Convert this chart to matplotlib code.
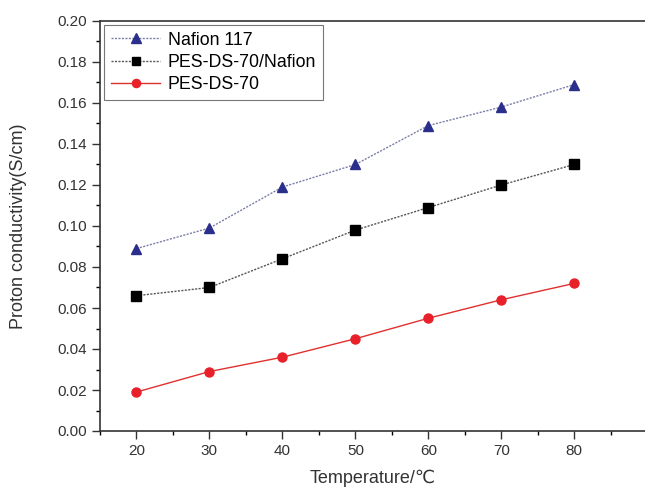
import matplotlib
matplotlib.use("Agg")
import matplotlib.pyplot as plt
from matplotlib.ticker import MultipleLocator

plt.rcParams['font.family'] = ['Liberation Sans', 'DejaVu Sans']

temps = [20, 30, 40, 50, 60, 70, 80]
nafion = [0.089, 0.099, 0.119, 0.130, 0.149, 0.158, 0.169]
composite = [0.066, 0.070, 0.084, 0.098, 0.109, 0.120, 0.130]
pes = [0.019, 0.029, 0.036, 0.045, 0.055, 0.064, 0.072]

fig = plt.figure(figsize=(6.45, 4.87), dpi=100)
ax = fig.add_axes([100/645, 56/487, 1 - 100/645, (431-21)/487])

ax.plot(temps, nafion, color='#7a7fa8', lw=1.0, ls=(0, (1.5, 1)),
        marker='^', ms=7.5, mfc='#2b2f8c', mec='#2b2f8c', label='Nafion 117')
ax.plot(temps, composite, color='#555555', lw=1.0, ls=(0, (1.5, 1)),
        marker='s', ms=6.5, mfc='black', mec='black', label='PES-DS-70/Nafion')
ax.plot(temps, pes, color='#e03030', lw=1.0, ls='-',
        marker='o', ms=6.5, mfc='#e8202a', mec='#e8202a', label='PES-DS-70')

ax.set_xlim(15, 89.7)
ax.set_ylim(0, 0.20)
ax.set_xticks(temps)
ax.set_yticks([i * 0.02 for i in range(11)])
ax.set_yticklabels([f"{i*0.02:.2f}" for i in range(11)])
ax.xaxis.set_minor_locator(MultipleLocator(5))
ax.yaxis.set_minor_locator(MultipleLocator(0.01))
ax.tick_params(which='major', direction='out', length=6, width=1, labelsize=11, colors='#333333')
ax.tick_params(which='minor', direction='out', length=3, width=1)
ax.spines['right'].set_visible(False)
for s in ['left', 'bottom', 'top']:
    ax.spines[s].set_linewidth(1.2)
    ax.spines[s].set_color('#333333')

ax.set_xlabel('Temperature/℃', fontsize=13, color='#333333', labelpad=8)
ax.set_ylabel('Proton conductivity(S/cm)', fontsize=13, color='#333333', labelpad=22)

leg = ax.legend(loc='upper left', fontsize=12.8, frameon=True, fancybox=False,
                edgecolor='#555555', borderpad=0.4, handlelength=2.8,
                labelspacing=0.3, borderaxespad=0.2, handletextpad=0.4,
                markerscale=0.9)
leg.get_frame().set_linewidth(0.8)

fig.savefig('out.png', dpi=100)
